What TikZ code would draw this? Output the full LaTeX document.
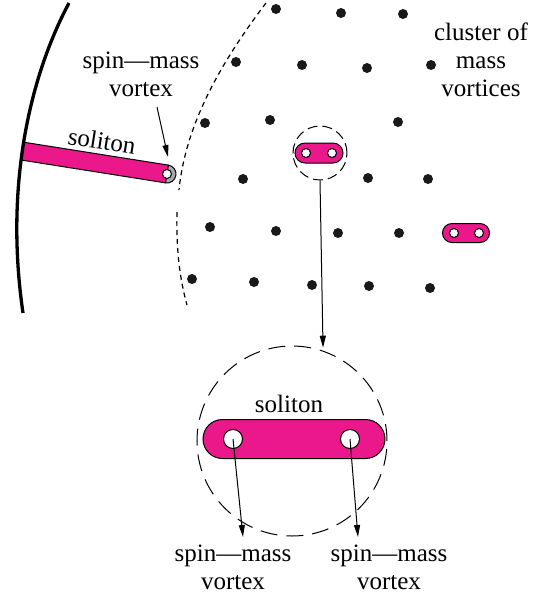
\documentclass[tikz,border=0pt]{standalone}
\usepackage{fontspec}
\setmainfont{Liberation Serif}
\usetikzlibrary{shapes.misc}
\usetikzlibrary{positioning}
\usetikzlibrary{arrows.meta}
\definecolor{solpink}{RGB}{234,24,138}
\definecolor{capgrey}{RGB}{165,168,172}
\tikzset{
    mdot/.style = {circle, fill=black!90, inner sep=0pt, minimum size=5pt},
    pill/.style = {rounded rectangle, draw=black, line width=0.5pt, fill=solpink, inner sep=0pt, minimum width=24pt, minimum height=10pt},
    bigpill/.style = {pill, minimum width=91pt, minimum height=19.5pt},
    hole/.style = {circle, draw=black, line width=0.5pt, fill=white, inner sep=0pt, minimum size=4.5pt},
    bighole/.style = {hole, minimum size=9.5pt},
    ring/.style = {circle, draw=black, line width=0.5pt, dash pattern=on 5pt off 2.5pt, inner sep=0pt, minimum size=27pt},
    bigring/.style = {ring, dash pattern=on 8.5pt off 4.5pt, minimum size=95pt},
    lbl/.style = {align=center, inner sep=1pt, font=\fontsize{12.5}{14}\selectfont},
    edgen/.style = {-{Triangle[length=6pt,width=3pt]}, line width=0.5pt},
    wall/.style = {line width=1.65pt},
    bound/.style = {line width=0.6pt, dash pattern=on 2.5pt off 2pt}
}
\begin{document}
\begin{tikzpicture}[x=0.5pt, y=-0.5pt]
\useasboundingbox (0,0) rectangle (533,602);
%
% soliton attached to the wall
\begin{scope}
\clip (69,3) .. controls (28,80) and (5,190) .. (23,313) -- (533,313) -- (533,0) -- cycle;
\begin{scope}[shift={(167,174)}, rotate=-9]
\fill[solpink] (-160,-9) rectangle (0,9);
\draw[line width=0.5pt] (-160,-9) -- (0,-9) (-160,9) -- (0,9);
\draw[line width=0.5pt, fill=capgrey] (0,-9) arc[start angle=-90, end angle=90, radius=9] -- cycle;
\node[hole] (vx) at (0,0) {};
\end{scope}
\end{scope}
\draw[wall] (69,3) .. controls (28,80) and (5,190) .. (23,313);
\node[lbl, rotate=-9] (sol) at (102,141) {soliton};
\node[lbl] (smv) at (141,74) {spin—mass\\vortex};
\coordinate (t1) at (157,107);
\coordinate (h1) at (168,157);
\draw[edgen] (t1) -- (h1);
%
% edge of the cluster
\draw[bound] (266,3) .. controls (215,70) and (185,130) .. (179,190);
\draw[bound] (177,212) .. controls (176,250) and (180,280) .. (187,305);
%
% mass vortices
\node[mdot] (m1) at (276,9) {};
\node[mdot] (m2) at (341,13) {};
\node[mdot] (m3) at (403,14) {};
\node[mdot] (m4) at (236,62) {};
\node[mdot] (m5) at (302,65) {};
\node[mdot] (m6) at (367,68) {};
\node[mdot] (m7) at (431,65) {};
\node[mdot] (m8) at (205,123) {};
\node[mdot] (m9) at (270,120) {};
\node[mdot] (m10) at (398,122) {};
\node[mdot] (m11) at (243,179) {};
\node[mdot] (m12) at (368,178) {};
\node[mdot] (m13) at (428,179) {};
\node[mdot] (m14) at (210,227) {};
\node[mdot] (m15) at (276,231) {};
\node[mdot] (m16) at (338,233) {};
\node[mdot] (m17) at (399,233) {};
\node[mdot] (m18) at (192,279) {};
\node[mdot] (m19) at (254,282) {};
\node[mdot] (m20) at (312,285) {};
\node[mdot] (m21) at (369,286) {};
\node[mdot] (m22) at (430,288) {};
\node[lbl] (cl) at (481,60) {cluster of\\mass\\vortices};
%
% small solitons
\node[ring] (r1) at (320,153) {};
\node[pill] (p1) at (319,153) {};
\node[hole] (p1a) at (306,153) {};
\node[hole] (p1b) at (332,153) {};
\node[pill, minimum width=23.5pt, minimum height=9.5pt] (p2) at (466,233) {};
\node[hole] (p2a) at (454,233) {};
\node[hole] (p2b) at (479,233) {};
%
% close-up
\node[bigring] (r2) at (292,441) {};
\node[bigpill] (p3) at (294,439) {};
\node[bighole] (p3a) at (233,439) {};
\node[bighole] (p3b) at (350,439) {};
\node[lbl] (sol2) at (289,404) {soliton};
\node[lbl] (smva) at (233,567) {spin—mass\\vortex};
\node[lbl] (smvb) at (389,567) {spin—mass\\vortex};
\coordinate (ha) at (243,537);
\coordinate (hb) at (358,537);
%
\draw[edgen, shorten >=1.5pt] (r1.south) -- (r2.71);
\draw[edgen] (p3a.center) -- (ha);
\draw[edgen] (p3b.center) -- (hb);

\end{tikzpicture}
\end{document}
